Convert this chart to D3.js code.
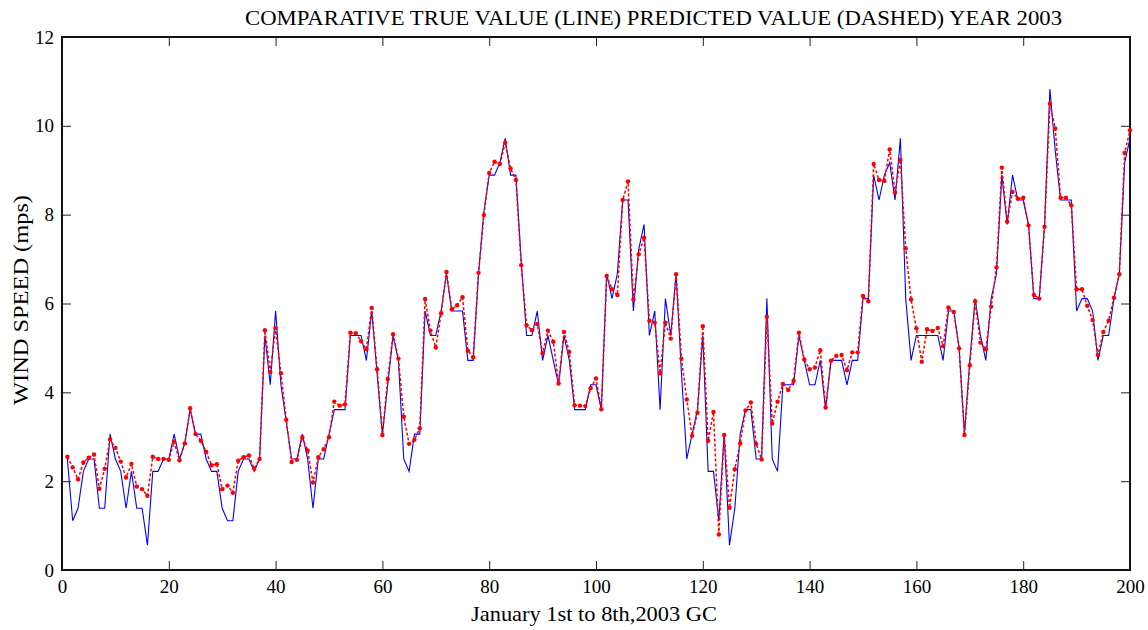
<!DOCTYPE html>
<html>
<head>
<meta charset="utf-8">
<script src="https://cdn.jsdelivr.net/npm/d3@7/dist/d3.min.js"></script>
<style>
  html, body { margin: 0; padding: 0; background: #fff; }
  svg text { font-family: "Liberation Serif", "Times New Roman", serif; fill: #000; }
</style>
</head>
<body>
<svg id="chart" width="1148" height="630"></svg>
<script>
// Hourly wind speed, 1–8 January 2003 (m/s)
const trueValues = [
  2.50,1.11,1.39,2.22,2.50,2.50,1.39,1.39,3.06,2.50,
  2.22,1.39,2.22,1.39,1.39,0.56,2.22,2.22,2.50,2.50,
  3.06,2.50,2.85,3.61,3.06,3.06,2.50,2.22,2.22,1.39,
  1.11,1.11,2.22,2.50,2.50,2.22,2.50,5.28,4.17,5.83,
  4.17,3.33,2.50,2.50,3.06,2.50,1.39,2.50,2.50,3.06,
  3.61,3.61,3.61,5.28,5.28,5.28,4.72,5.83,4.44,3.06,
  4.17,5.28,4.72,2.50,2.22,3.06,3.06,5.83,5.28,5.28,
  5.83,6.67,5.83,5.83,5.83,4.72,4.72,6.67,8.06,8.89,
  8.89,9.17,9.72,8.89,8.89,6.94,5.28,5.28,5.83,4.72,
  5.28,4.72,4.17,5.28,4.72,3.61,3.61,3.61,4.17,4.17,
  3.61,6.67,6.11,6.67,8.33,8.33,5.83,7.22,7.78,5.28,
  5.83,3.61,6.11,5.28,6.67,4.44,2.50,3.06,3.61,5.28,
  2.22,2.22,1.11,3.06,0.56,1.39,3.06,3.61,3.61,2.50,
  2.50,6.11,2.50,2.22,4.17,4.17,4.17,5.28,4.72,4.17,
  4.17,4.72,3.61,4.72,4.72,4.72,4.17,4.72,4.72,6.11,
  6.11,8.89,8.33,8.89,9.17,8.33,9.72,6.11,4.72,5.28,
  5.28,5.28,5.28,5.28,4.72,5.83,5.83,5.00,3.06,4.72,
  6.11,5.28,4.72,6.11,6.67,8.89,7.78,8.89,8.33,8.33,
  7.78,6.11,6.11,7.78,10.83,9.44,8.33,8.33,8.33,5.83,
  6.11,6.11,5.83,4.72,5.28,5.28,6.11,6.67,9.17,9.72
];

const predictedValues = [
  2.55,2.31,2.04,2.42,2.53,2.60,1.83,2.28,2.94,2.75,
  2.44,2.08,2.39,1.88,1.82,1.67,2.55,2.50,2.50,2.48,
  2.89,2.47,2.85,3.64,3.06,2.91,2.66,2.36,2.38,1.82,
  1.90,1.74,2.46,2.54,2.58,2.28,2.50,5.40,4.46,5.45,
  4.43,3.38,2.43,2.48,2.99,2.69,1.97,2.54,2.72,2.99,
  3.79,3.70,3.73,5.34,5.33,5.15,4.97,5.90,4.52,3.04,
  4.30,5.31,4.76,3.45,2.84,2.93,3.19,6.10,5.39,5.01,
  5.78,6.71,5.87,5.96,6.14,4.94,4.79,6.69,7.99,8.94,
  9.19,9.14,9.62,9.04,8.78,6.86,5.51,5.40,5.54,4.88,
  5.39,5.14,4.20,5.36,4.91,3.71,3.70,3.69,4.09,4.31,
  3.62,6.62,6.32,6.19,8.33,8.75,6.09,7.11,7.48,5.61,
  5.57,4.43,5.57,5.21,6.66,4.76,3.84,3.02,3.54,5.49,
  2.91,3.56,0.80,3.04,1.40,2.27,2.85,3.59,3.77,2.84,
  2.49,5.70,3.30,3.79,4.19,4.05,4.26,5.34,4.74,4.52,
  4.56,4.95,3.66,4.71,4.82,4.84,4.50,4.90,4.90,6.17,
  6.05,9.14,8.78,8.76,9.47,8.50,9.23,7.24,6.09,5.44,
  4.69,5.42,5.38,5.45,5.04,5.91,5.81,4.99,3.04,4.61,
  6.05,5.12,4.97,5.93,6.81,9.06,7.84,8.51,8.36,8.38,
  7.76,6.19,6.11,7.73,10.50,9.94,8.38,8.38,8.21,6.32,
  6.32,5.95,5.63,4.84,5.36,5.61,6.13,6.66,9.39,9.90
];

const xTicks = [0, 20, 40, 60, 80, 100, 120, 140, 160, 180, 200];
const yTicks = [0, 2, 4, 6, 8, 10, 12];

const titleText = "COMPARATIVE TRUE VALUE (LINE) PREDICTED VALUE (DASHED) YEAR 2003";
const xLabel = "January 1st to 8th,2003 GC";
const yLabel = "WIND SPEED (mps)";

const svg = d3.select("#chart");
const plotLeft = 62, plotRight = 1130, plotTop = 37, plotBottom = 570;

const x = d3.scaleLinear().domain([0, 200]).range([plotLeft, plotRight]);
const y = d3.scaleLinear().domain([0, 12]).range([plotBottom, plotTop]);

const trueSeries = trueValues.map((v, i) => ({ t: i + 1, v }));
const predSeries = predictedValues.map((v, i) => ({ t: i + 1, v }));

// Inward ticks on all four sides
const tickLen = 9;
svg.append("g").attr("transform", `translate(0,${plotBottom})`)
  .call(d3.axisBottom(x).tickValues(xTicks).tickSizeInner(-tickLen).tickSizeOuter(0).tickPadding(10))
  .call(g => g.select(".domain").remove())
  .call(g => g.selectAll("line").attr("stroke", "#222"))
  .call(g => g.selectAll("text").attr("font-size", 19).attr("font-family", "Liberation Serif"));

svg.append("g").attr("transform", `translate(0,${plotTop})`)
  .call(d3.axisTop(x).tickValues(xTicks).tickSizeInner(-tickLen).tickSizeOuter(0).tickFormat(""))
  .call(g => g.select(".domain").remove())
  .call(g => g.selectAll("line").attr("stroke", "#222"));

svg.append("g").attr("transform", `translate(${plotLeft},0)`)
  .call(d3.axisLeft(y).tickValues(yTicks).tickSizeInner(-tickLen).tickSizeOuter(0).tickPadding(8))
  .call(g => g.select(".domain").remove())
  .call(g => g.selectAll("line").attr("stroke", "#222"))
  .call(g => g.selectAll("text").attr("font-size", 19).attr("font-family", "Liberation Serif"));

svg.append("g").attr("transform", `translate(${plotRight},0)`)
  .call(d3.axisRight(y).tickValues(yTicks).tickSizeInner(-tickLen).tickSizeOuter(0).tickFormat(""))
  .call(g => g.select(".domain").remove())
  .call(g => g.selectAll("line").attr("stroke", "#222"));

// Plot frame
svg.append("rect")
  .attr("x", plotLeft).attr("y", plotTop)
  .attr("width", plotRight - plotLeft).attr("height", plotBottom - plotTop)
  .attr("fill", "none").attr("stroke", "#111").attr("stroke-width", 2);

const line = d3.line().x(d => x(d.t)).y(d => y(d.v));

// Measured wind speed (solid blue)
svg.append("path").datum(trueSeries)
  .attr("d", line)
  .attr("fill", "none").attr("stroke", "#0000ff").attr("stroke-width", 1.1)
  .attr("stroke-linejoin", "miter");

// Predicted wind speed (dashed red with markers)
svg.append("path").datum(predSeries)
  .attr("d", line)
  .attr("fill", "none").attr("stroke", "#ff0000").attr("stroke-width", 1.5)
  .attr("stroke-dasharray", "3,2");

svg.append("g").selectAll("circle").data(predSeries).join("circle")
  .attr("cx", d => x(d.t)).attr("cy", d => y(d.v))
  .attr("r", 2.2).attr("fill", "#ff0000");

// Titles
svg.append("text")
  .attr("x", 245).attr("y", 25)
  .attr("font-size", 21)
  .attr("textLength", 817).attr("lengthAdjust", "spacingAndGlyphs")
  .text(titleText);

svg.append("text")
  .attr("x", 471).attr("y", 621)
  .attr("font-size", 21)
  .attr("textLength", 246).attr("lengthAdjust", "spacingAndGlyphs")
  .text(xLabel);

svg.append("text")
  .attr("transform", "translate(28,405) rotate(-90)")
  .attr("font-size", 21)
  .attr("textLength", 210).attr("lengthAdjust", "spacingAndGlyphs")
  .text(yLabel);
</script>
</body>
</html>
